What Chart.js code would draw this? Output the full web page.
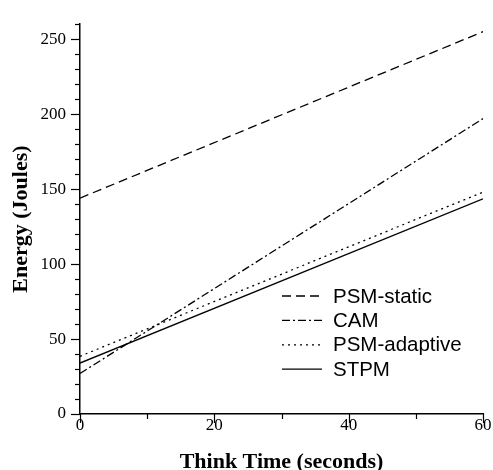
<!DOCTYPE html>
<html>
<head>
<meta charset="utf-8">
<script src="https://cdn.jsdelivr.net/npm/chart.js@4/dist/chart.umd.min.js"></script>
<style>
  html, body { margin: 0; padding: 0; background: #fff; }
  #wrap { width: 493px; height: 470px; }
</style>
</head>
<body>
<div id="wrap"><canvas id="myChart" width="493" height="470"></canvas></div>
<script>
// think time (seconds) at both ends of each line
var thinkTime = [0, 60];
var psmStatic = [144, 255];
var cam = [27, 197];
var psmAdaptive = [38.5, 148];
var stpm = [34, 143.5];
var seriesNames = ["PSM-static", "CAM", "PSM-adaptive", "STPM"];
var xTicks = [0, 20, 40, 60];
var yTicks = [0, 50, 100, 150, 200, 250];

function toPoints(vals) {
  return thinkTime.map(function (t, i) { return { x: t, y: vals[i] }; });
}

var dashes = [[9, 5], [8, 3, 2, 3], [2, 4], []];
var allSeries = [psmStatic, cam, psmAdaptive, stpm];

var datasets = allSeries.map(function (vals, i) {
  return {
    label: seriesNames[i],
    data: toPoints(vals),
    borderColor: "#000",
    borderWidth: 1.3,
    borderDash: dashes[i],
    pointRadius: 0,
    fill: false,
    tension: 0,
  };
});

// minor + major tick marks, drawn outward from the axes
var tickMarks = {
  id: "tickMarks",
  afterDraw: function (chart) {
    var ctx = chart.ctx;
    var xs = chart.scales.x, ys = chart.scales.y;
    var area = chart.chartArea;
    ctx.save();
    ctx.strokeStyle = "#000";
    ctx.lineWidth = 1.2;
    ctx.setLineDash([]);
    for (var v = 0; v <= 260; v += 10) {
      var py = Math.round(ys.getPixelForValue(v)) + 0.5;
      var len = v % 50 === 0 ? 9 : 5;
      ctx.beginPath();
      ctx.moveTo(area.left, py);
      ctx.lineTo(area.left - len, py);
      ctx.stroke();
    }
    for (var t = 0; t <= 60; t += 10) {
      var px = Math.round(xs.getPixelForValue(t)) + 0.5;
      var l2 = t % 20 === 0 ? 9 : 5;
      ctx.beginPath();
      ctx.moveTo(px, area.bottom);
      ctx.lineTo(px, area.bottom + l2);
      ctx.stroke();
    }
    ctx.restore();
  },
};

// legend inside the plot, lower right
var insideLegend = {
  id: "insideLegend",
  afterDraw: function (chart) {
    var ctx = chart.ctx;
    ctx.save();
    ctx.font = "20.5px 'Liberation Sans', Arial, sans-serif";
    ctx.fillStyle = "#000";
    ctx.textBaseline = "middle";
    chart.data.datasets.forEach(function (ds, i) {
      var y = 296 + i * 24.4;
      ctx.strokeStyle = "#000";
      ctx.lineWidth = 1.3;
      ctx.setLineDash(ds.borderDash);
      ctx.beginPath();
      ctx.moveTo(282, y);
      ctx.lineTo(322, y);
      ctx.stroke();
      ctx.setLineDash([]);
      ctx.fillText(ds.label, 333, y + 1);
    });
    ctx.restore();
  },
};

var serif = "'Liberation Serif', 'Times New Roman', serif";

new Chart(document.getElementById("myChart"), {
  type: "line",
  data: { datasets: datasets },
  options: {
    responsive: false,
    animation: false,
    layout: { padding: { top: 11, right: 10, left: 0, bottom: 0 } },
    plugins: { legend: { display: false }, tooltip: { enabled: false } },
    scales: {
      x: {
        type: "linear",
        min: 0,
        max: 60,
        grid: { display: false, drawTicks: false },
        border: { display: true, color: "#000", width: 1.5 },
        afterBuildTicks: function (s) {
          s.ticks = xTicks.map(function (v) { return { value: v }; });
        },
        afterFit: function (s) { s.height = 56; },
        ticks: {
          color: "#000",
          padding: 1,
          maxRotation: 0,
          font: { family: serif, size: 17 },
        },
        title: {
          display: true,
          text: "Think Time (seconds)",
          color: "#000",
          padding: { top: 0, bottom: 0 },
          font: { family: serif, size: 22, weight: "bold", lineHeight: "16px" },
        },
      },
      y: {
        min: 0,
        max: 260,
        grid: { display: false, drawTicks: false },
        border: { display: true, color: "#000", width: 1.5 },
        afterBuildTicks: function (s) {
          s.ticks = yTicks.map(function (v) { return { value: v }; });
        },
        afterFit: function (s) { s.width = 80; },
        ticks: {
          color: "#000",
          padding: 14,
          font: { family: serif, size: 17 },
        },
        title: {
          display: true,
          text: "Energy (Joules)",
          color: "#000",
          padding: { top: 13, bottom: 0 },
          font: { family: serif, size: 22, weight: "bold", lineHeight: "16px" },
        },
      },
    },
  },
  plugins: [tickMarks, insideLegend],
});
</script>
</body>
</html>
